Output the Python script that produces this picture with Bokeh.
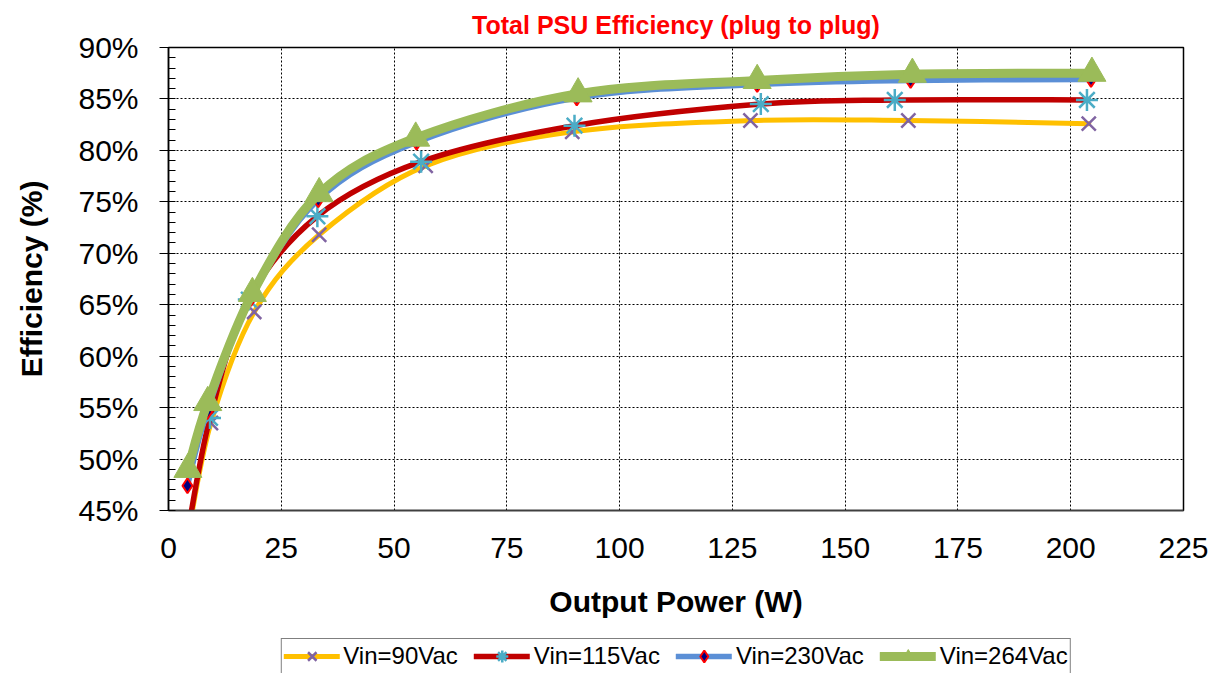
import numpy as np
from bokeh.plotting import figure
from bokeh.layouts import column
from bokeh.models import (SingleIntervalTicker, PrintfTickFormatter, ColumnDataSource,
                          Legend, LegendItem, Range1d)
from bokeh.embed import file_html
from bokeh.resources import INLINE

# ---------------- data ----------------
series_labels = ["Vin=90Vac", "Vin=115Vac", "Vin=230Vac", "Vin=264Vac"]

power_90 = [4.3, 9.4, 19.0, 33.4, 57.0, 89.5, 129.0, 164.0, 204.0]
eff_90 = [42.5, 53.5, 64.3, 71.8, 78.5, 81.8, 82.9, 82.9, 82.6]

power_115 = [4.3, 9.2, 17.8, 33.0, 56.0, 90.0, 131.3, 161.0, 203.6]
eff_115 = [43.0, 54.0, 65.5, 73.6, 78.9, 82.4, 84.5, 84.9, 84.9]

power_230 = [4.2, 8.6, 18.3, 33.2, 55.0, 90.5, 130.5, 164.5, 204.5]
eff_230 = [47.4, 54.6, 65.6, 75.2, 80.8, 85.1, 86.4, 86.8, 86.9]

power_264 = [4.3, 8.7, 18.6, 33.4, 54.8, 90.8, 130.5, 164.9, 204.7]
eff_264 = [49.0, 55.5, 66.1, 75.8, 81.2, 85.5, 86.8, 87.4, 87.5]

title_text = "Total PSU Efficiency (plug to plug)"
x_title = "Output Power (W)"
y_title = "Efficiency (%)"


def smooth_source(xs, ys):
    """Bezier control points (Catmull-Rom style, like a spreadsheet 'smoothed line')."""
    x = np.asarray(xs, float)
    y = np.asarray(ys, float)
    xp = np.concatenate([[x[0]], x, [x[-1]]])
    yp = np.concatenate([[y[0]], y, [y[-1]]])
    i = np.arange(len(x) - 1)
    return ColumnDataSource(dict(
        x0=xp[i + 1], y0=yp[i + 1], x1=xp[i + 2], y1=yp[i + 2],
        cx0=xp[i + 1] + (xp[i + 2] - xp[i]) / 6.0,
        cy0=yp[i + 1] + (yp[i + 2] - yp[i]) / 6.0,
        cx1=xp[i + 2] - (xp[i + 3] - xp[i + 1]) / 6.0,
        cy1=yp[i + 2] - (yp[i + 3] - yp[i + 1]) / 6.0,
    ))


p = figure(width=1217, height=636, output_backend="svg", toolbar_location=None,
           x_range=Range1d(0, 225), y_range=Range1d(45, 90),
           min_border_left=168, min_border_right=34, min_border_top=47, min_border_bottom=126)
p.background_fill_color = "white"
p.border_fill_color = "white"
p.outline_line_color = "black"
p.outline_line_width = 1.5

p.title.text = title_text
p.title.align = "center"
p.title.text_color = "#FF0000"
p.title.text_font = "Liberation Sans"
p.title.text_font_style = "bold"
p.title.text_font_size = "25px"
p.title.standoff = 17

# axes
xa = p.xaxis[0]
xa.ticker = SingleIntervalTicker(interval=25, num_minor_ticks=0)
xa.major_tick_out = 0
xa.major_tick_in = 0
xa.minor_tick_out = 0
xa.minor_tick_in = 0
xa.axis_line_color = "#404040"
xa.axis_line_width = 1.5
xa.major_label_text_font = "Liberation Sans"
xa.major_label_text_font_size = "30px"
xa.major_label_text_color = "black"
xa.major_label_standoff = 27
xa.axis_label = x_title
xa.axis_label_text_font = "Liberation Sans"
xa.axis_label_text_font_style = "bold"
xa.axis_label_text_font_size = "30px"
xa.axis_label_text_color = "black"
xa.axis_label_standoff = 24

ya = p.yaxis[0]
ya.ticker = SingleIntervalTicker(interval=5, num_minor_ticks=5)
ya.formatter = PrintfTickFormatter(format="%d%%")
ya.major_tick_out = 9
ya.major_tick_in = 0
ya.minor_tick_in = 7
ya.minor_tick_out = 0
ya.major_tick_line_color = "black"
ya.minor_tick_line_color = "black"
ya.axis_line_color = "black"
ya.axis_line_width = 1.5
ya.major_label_text_font = "Liberation Sans"
ya.major_label_text_font_size = "30px"
ya.major_label_text_color = "black"
ya.major_label_standoff = 21
ya.axis_label = y_title
ya.axis_label_text_font = "Liberation Sans"
ya.axis_label_text_font_style = "bold"
ya.axis_label_text_font_size = "30px"
ya.axis_label_text_color = "black"
ya.axis_label_standoff = 27

for g in (p.xgrid[0], p.ygrid[0]):
    g.grid_line_color = "black"
    g.grid_line_dash = "2 2"
    g.grid_line_width = 1

# legend strip: a second figure placed under the chart (its glyphs lie outside its view)
lf = figure(width=1217, height=37, output_backend="svg", toolbar_location=None,
            x_range=Range1d(1000, 1001), y_range=Range1d(1000, 1001),
            x_axis_type=None, y_axis_type=None,
            min_border_left=168, min_border_right=34, min_border_top=0, min_border_bottom=0)
lf.outline_line_color = None
lf.background_fill_color = "white"
lf.border_fill_color = "white"

# series
specs = [
    (power_90, eff_90, "#FFC000", 5, dict(marker="x", size=20, line_color="#8064A2", line_width=2.5)),
    (power_115, eff_115, "#C00000", 5.5, dict(marker="asterisk", size=22, line_color="#4BACC6", line_width=2.5)),
    (power_230, eff_230, "#5B8FD6", 5.5, dict(marker="diamond", size=15, fill_color="#000080",
                                             line_color="#FF0000", line_width=2)),
    (power_264, eff_264, "#9BBB59", 9, dict(marker="triangle", size=28, fill_color="#9BBB59",
                                            line_color="#9BBB59", line_width=1)),
]

items = []
for (xs, ys, col, lw, mk), label in zip(specs, series_labels):
    src = smooth_source(xs, ys)
    p.bezier(x0="x0", y0="y0", x1="x1", y1="y1", cx0="cx0", cy0="cy0",
             cx1="cx1", cy1="cy1", source=src, line_color=col, line_width=lw,
             line_cap="round")
    p.scatter(x=xs, y=ys, **mk)
    # same series in the legend strip, used only for the legend samples
    l_line = lf.bezier(x0="x0", y0="y0", x1="x1", y1="y1", cx0="cx0", cy0="cy0",
                       cx1="cx1", cy1="cy1", source=src, line_color=col, line_width=lw,
                       line_cap="round")
    l_mark = lf.scatter(x=xs, y=ys, **mk)
    items.append(LegendItem(label=label, renderers=[l_line, l_mark]))

legend = Legend(items=items, orientation="horizontal", location="top_center",
                label_text_font="Liberation Sans", label_text_font_size="24px",
                label_text_color="black", glyph_width=56, glyph_height=30,
                label_standoff=4, spacing=16, padding=2, margin=2,
                border_line_color="black", border_line_width=1,
                background_fill_color="white", background_fill_alpha=1)
lf.add_layout(legend, "center")

layout = column(p, lf, spacing=0)
open("out.html", "w").write(file_html(layout, INLINE))
